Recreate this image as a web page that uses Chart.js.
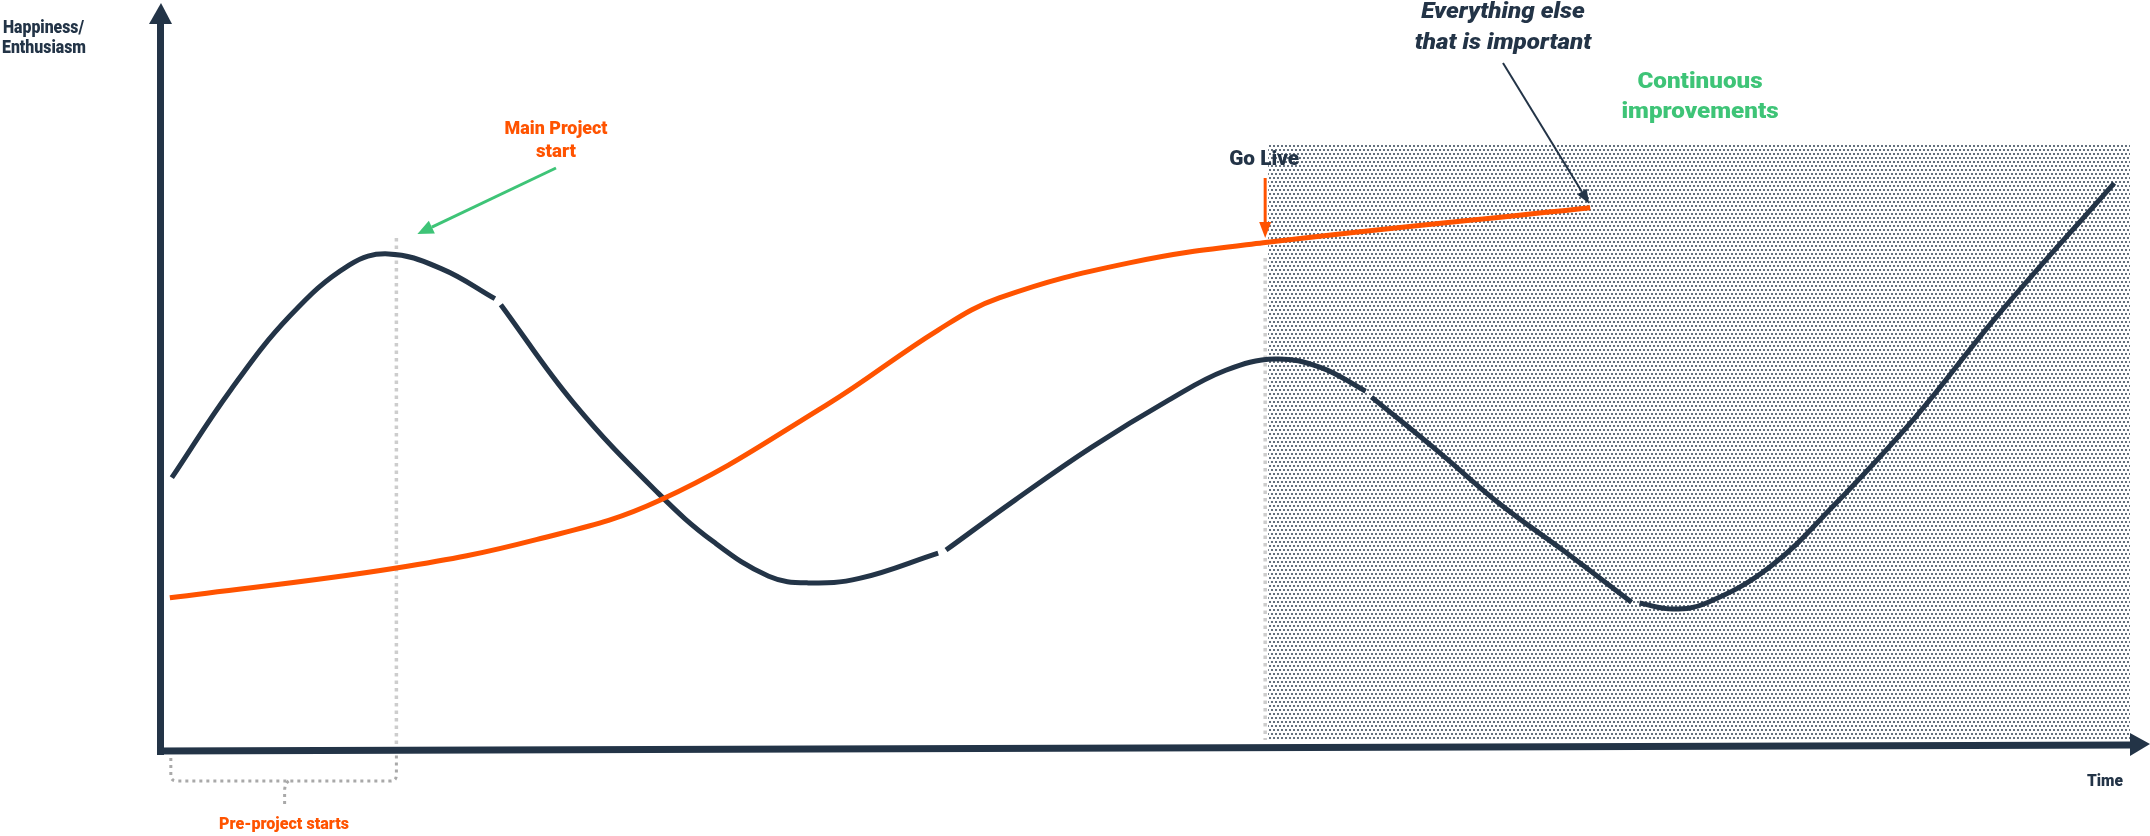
<!DOCTYPE html>
<html>
<head>
<meta charset="utf-8">
<script src="https://cdn.jsdelivr.net/npm/chart.js@4.4.1/dist/chart.umd.min.js"></script>
<style>
  html, body { margin: 0; padding: 0; background: #ffffff; }
  #wrap { width: 2150px; height: 836px; position: relative; }
</style>
</head>
<body>
<div id="wrap"><canvas id="c" width="2150" height="836"></canvas></div>
<script>
// ---- Data (time 0..100, happiness 0..100) ----
const timeSeg1 = [0.6, 3.6, 6.6, 9.6, 11.6, 14.3, 17.0];
const moodSeg1 = [36.5, 48.3, 58.2, 65.0, 66.5, 64.5, 60.5];
const timeSeg2 = [17.3, 21.0, 25.3, 28.1, 30.9, 32.9, 35.5, 39.5];
const moodSeg2 = [59.7, 46.5, 34.4, 27.9, 23.3, 22.4, 23.0, 26.4];
const timeSeg3 = [39.9, 43.4, 47.3, 51.2, 54.1, 56.6, 58.9, 61.2];
const moodSeg3 = [26.8, 33.5, 40.6, 46.9, 50.9, 52.4, 51.3, 48.1];
const timeSeg4 = [61.5, 64.8, 68.0, 71.2, 74.7];
const moodSeg4 = [47.3, 40.2, 33.0, 26.8, 19.8];
const timeSeg5 = [75.1, 76.8, 78.5, 81.7, 84.9, 89.1, 93.2, 99.2];
const moodSeg5 = [19.7, 18.9, 19.7, 24.5, 32.6, 44.6, 58.0, 76.0];

const otherTime  = [0.5, 12.0, 19.1, 25.4, 33.8, 39.5, 42.6, 49.2, 56.0, 72.6];
const otherValue = [20.4, 24.4, 28.2, 33.5, 46.2, 56.3, 60.6, 65.3, 68.0, 72.7];

const mainProjectStart = 12.0;   // time of main project start
const goLiveTime = 56.1;         // time of go live
const improvementTop = 81.2;     // top of "continuous improvements" zone

const NAVY = '#233447';
const ORANGE = '#ff5300';
const GREEN = '#3ec477';

function pts(xs, ys) { return xs.map((x, i) => ({ x: x, y: ys[i] })); }
function lineDs(xs, ys, color) {
  return {
    data: pts(xs, ys),
    borderColor: color,
    borderWidth: 5,
    pointRadius: 0,
    fill: false,
    borderCapStyle: 'butt',
    tension: 0.4
  };
}

const FONT = 'Roboto, "Noto Sans", sans-serif';

function arrow(ctx, x1, y1, x2, y2, color, width, headLen, headW) {
  const a = Math.atan2(y2 - y1, x2 - x1);
  const bx = x2 - headLen * Math.cos(a), by = y2 - headLen * Math.sin(a);
  ctx.save();
  ctx.strokeStyle = color; ctx.fillStyle = color; ctx.lineWidth = width;
  ctx.beginPath(); ctx.moveTo(x1, y1); ctx.lineTo(bx, by); ctx.stroke();
  ctx.beginPath();
  ctx.moveTo(x2, y2);
  ctx.lineTo(bx + headW / 2 * Math.sin(a), by - headW / 2 * Math.cos(a));
  ctx.lineTo(bx - headW / 2 * Math.sin(a), by + headW / 2 * Math.cos(a));
  ctx.closePath(); ctx.fill();
  ctx.restore();
}

// draw text; width = target rendered width (horizontal compression to mimic condensed face)
function text(ctx, str, x, y, font, color, align, width) {
  ctx.save();
  ctx.font = font; ctx.fillStyle = color;
  ctx.textBaseline = 'alphabetic';
  ctx.textAlign = 'left';
  const w = ctx.measureText(str).width;
  const s = width ? Math.min(1.1, width / w) : 1;
  const rw = w * s;
  let left = x;
  if (align === 'center' || !align) left = x - rw / 2;
  else if (align === 'right') left = x - rw;
  ctx.translate(left, y);
  ctx.scale(s, 1);
  ctx.fillText(str, 0, 0);
  ctx.restore();
}

function makePattern(ctx) {
  const t = document.createElement('canvas');
  t.width = 4; t.height = 8;
  const g = t.getContext('2d');
  g.fillStyle = '#ffffff'; g.fillRect(0, 0, 4, 8);
  g.globalAlpha = 0.7;
  g.fillStyle = '#233447';
  g.fillRect(1, 1, 2, 2);
  g.fillRect(3, 5, 1, 2); g.fillRect(0, 5, 1, 2);
  return ctx.createPattern(t, 'repeat');
}

const backdrop = {
  id: 'backdrop',
  beforeDatasetsDraw(chart) {
    const { ctx, chartArea: ca, scales: { x, y } } = chart;
    // shaded improvements zone
    const zx = x.getPixelForValue(goLiveTime);
    const zy = y.getPixelForValue(improvementTop);
    ctx.save();
    ctx.fillStyle = makePattern(ctx);
    ctx.fillRect(zx + 3, zy, ca.right - zx - 3, ca.bottom - 10 - zy);
    ctx.restore();

    // dotted verticals
    ctx.save();
    ctx.lineWidth = 3.5;
    ctx.setLineDash([3.5, 4]);
    ctx.strokeStyle = '#cdcdcd';
    const mx = x.getPixelForValue(mainProjectStart);
    ctx.beginPath(); ctx.moveTo(mx, 238); ctx.lineTo(mx, ca.bottom); ctx.stroke();
    ctx.beginPath(); ctx.moveTo(zx, 258); ctx.lineTo(zx, ca.bottom - 10); ctx.stroke();

    // bracket for pre-project
    ctx.lineWidth = 3;
    ctx.setLineDash([3, 4]);
    ctx.strokeStyle = '#a9a9a9';
    const lx = x.getPixelForValue(0.55);
    const by = ca.bottom + 31;
    ctx.beginPath();
    ctx.moveTo(lx, ca.bottom + 8);
    ctx.lineTo(lx, by - 6);
    ctx.quadraticCurveTo(lx, by, lx + 6, by);
    ctx.lineTo(mx - 6, by);
    ctx.quadraticCurveTo(mx, by, mx, by - 6);
    ctx.lineTo(mx, ca.bottom + 4);
    ctx.stroke();
    const cx = (lx + mx) / 2 + 1;
    ctx.beginPath();
    ctx.moveTo(cx + 4, by);
    ctx.quadraticCurveTo(cx, by + 3, cx, by + 10);
    ctx.lineTo(cx, by + 25);
    ctx.stroke();
    ctx.restore();
  },
  afterDatasetsDraw(chart) {
    const { ctx, chartArea: ca, scales: { x, y } } = chart;
    // axes
    ctx.save();
    ctx.fillStyle = NAVY; ctx.strokeStyle = NAVY; ctx.lineWidth = 7;
    ctx.beginPath(); ctx.moveTo(ca.left + 0.5, ca.bottom + 5); ctx.lineTo(ca.left + 0.5, 22); ctx.stroke();
    ctx.beginPath(); ctx.moveTo(ca.left - 11, 24); ctx.lineTo(ca.left + 12, 24); ctx.lineTo(ca.left + 1, 3); ctx.closePath(); ctx.fill();
    ctx.beginPath(); ctx.moveTo(ca.left - 3, ca.bottom + 1); ctx.lineTo(ca.right + 2, ca.bottom - 5); ctx.stroke();
    ctx.beginPath(); ctx.moveTo(ca.right, ca.bottom - 17); ctx.lineTo(ca.right, ca.bottom + 6); ctx.lineTo(ca.right + 20, ca.bottom - 6); ctx.closePath(); ctx.fill();
    ctx.restore();

    // labels
    const W = '900 ';
    text(ctx, 'Happiness/', 3, 33, W + '18px ' + FONT, NAVY, 'left', 81);
    text(ctx, 'Enthusiasm', 2, 53, W + '18px ' + FONT, NAVY, 'left', 84);
    text(ctx, 'Time', 2105, 786, W + '17px ' + FONT, NAVY, 'center', 36);
    text(ctx, 'Pre-project starts', 284, 829, W + '17px ' + FONT, ORANGE, 'center', 130);
    text(ctx, 'Main Project', 556, 134, W + '19px ' + FONT, ORANGE, 'center', 103);
    text(ctx, 'start', 556, 157, W + '19px ' + FONT, ORANGE, 'center', 40);
    const zx = x.getPixelForValue(goLiveTime);
    text(ctx, 'Go Live', zx - 1, 165, W + '20px ' + FONT, NAVY, 'center', 70);
    text(ctx, 'Everything else', 1503, 18, 'italic ' + W + '22px ' + FONT, NAVY, 'center', 172);
    text(ctx, 'that is important', 1503, 49, 'italic ' + W + '22px ' + FONT, NAVY, 'center', 189);
    text(ctx, 'Continuous', 1700, 88, W + '22px ' + FONT, GREEN, 'center', 127);
    text(ctx, 'improvements', 1700, 118, W + '22px ' + FONT, GREEN, 'center', 166);

    // arrows
    const mx = x.getPixelForValue(mainProjectStart);
    arrow(ctx, 556, 168, mx + 21, 234, GREEN, 3, 16, 14);
    arrow(ctx, zx, 178, zx, 238, ORANGE, 3, 16, 12);
    const ex = x.getPixelForValue(otherTime[otherTime.length - 1]);
    const ey = y.getPixelForValue(otherValue[otherValue.length - 1]);
    arrow(ctx, 1503, 63, ex - 1, ey - 4, NAVY, 2, 14, 11);
  }
};

new Chart(document.getElementById('c'), {
  type: 'line',
  data: {
    datasets: [
      lineDs(otherTime, otherValue, ORANGE),
      lineDs(timeSeg1, moodSeg1, NAVY),
      lineDs(timeSeg2, moodSeg2, NAVY),
      lineDs(timeSeg3, moodSeg3, NAVY),
      lineDs(timeSeg4, moodSeg4, NAVY),
      lineDs(timeSeg5, moodSeg5, NAVY)
    ]
  },
  options: {
    responsive: false,
    animation: false,
    layout: { padding: { left: 160, right: 20, top: 4, bottom: 86 } },
    plugins: { legend: { display: false }, tooltip: { enabled: false } },
    scales: {
      x: { type: 'linear', min: 0, max: 100, display: false },
      y: { type: 'linear', min: 0, max: 100, display: false }
    }
  },
  plugins: [backdrop]
});
</script>
</body>
</html>
